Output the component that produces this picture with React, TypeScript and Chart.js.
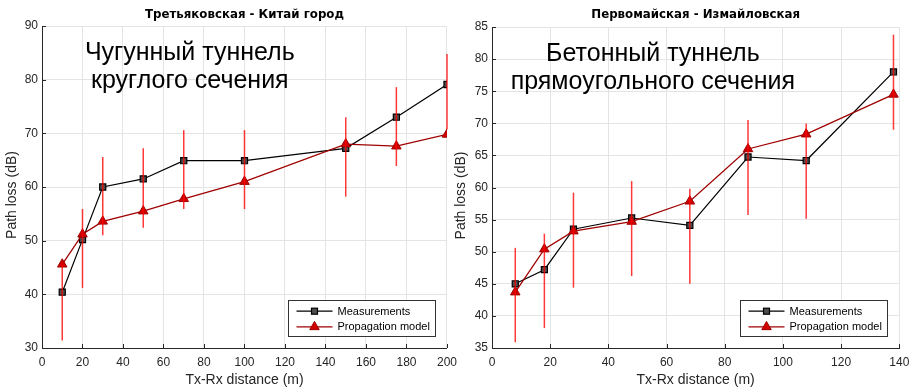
import React, { useEffect, useRef } from "react";
import { Chart, registerables } from "chart.js";

Chart.register(...registerables);

const FONT = "'Liberation Sans', Arial, Helvetica, sans-serif";
const TITLE_FONT = "'DejaVu Sans', 'Liberation Sans', sans-serif";
const AXIS_COLOR = "#262626";
const GRID_COLOR = "#e4e4e4";

// ---------- Left chart: Третьяковская - Китай город ----------
const leftTitle = "Третьяковская - Китай город";
const leftNote = ["Чугунный туннель", "круглого сечения"];
const leftDistance = [10, 20, 30, 50, 70, 100, 150, 175, 200];
const leftMeasured = [40.4, 50.2, 60.0, 61.5, 64.9, 64.9, 67.2, 73.0, 79.1];
const leftModel = [45.6, 51.2, 53.6, 55.5, 57.8, 61.0, 68.0, 67.6, 69.8];
const leftErrLow = [31.4, 41.2, 51.0, 52.4, 55.9, 55.9, 58.2, 63.9, 70.7];
const leftErrHigh = [45.5, 55.9, 65.6, 67.2, 70.6, 70.6, 73.0, 78.6, 84.8];
const leftXTicks = [0, 200, 20]; // min, max, step
const leftYTicks = [30, 90, 10];

// ---------- Right chart: Первомайская - Измайловская ----------
const rightTitle = "Первомайская - Измайловская";
const rightNote = ["Бетонный туннель", "прямоугольного сечения"];
const rightDistance = [8, 18, 28, 48, 68, 88, 108, 138];
const rightMeasured = [45.0, 47.2, 53.5, 55.25, 54.1, 64.75, 64.2, 78.0];
const rightModel = [43.7, 50.4, 53.2, 54.7, 57.85, 66.0, 68.3, 74.5];
const rightErrLow = [35.9, 38.1, 44.4, 46.2, 45.0, 55.7, 55.15, 69.0];
const rightErrHigh = [50.6, 52.8, 59.2, 61.0, 59.8, 70.5, 69.95, 83.8];
const rightXTicks = [0, 140, 20];
const rightYTicks = [35, 85, 5];

const seriesLabels = ["Measurements", "Propagation model"];
const xAxisTitle = "Tx-Rx distance (m)";
const yAxisTitle = "Path loss (dB)";

type Panel = {
  title: string;
  note: string[];
  noteFrac: number;
  x: number[];
  meas: number[];
  model: number[];
  low: number[];
  high: number[];
  xt: number[];
  yt: number[];
  padRight: number;
  padTop: number;
  yTitleX: number;
};

function drawSquare(ctx: CanvasRenderingContext2D, x: number, y: number) {
  ctx.fillStyle = "#4d4d4d";
  ctx.strokeStyle = "#000";
  ctx.lineWidth = 1.2;
  ctx.fillRect(x - 3, y - 3, 6, 6);
  ctx.strokeRect(x - 3, y - 3, 6, 6);
}

function drawTriangle(ctx: CanvasRenderingContext2D, x: number, y: number) {
  const r = 5.5;
  ctx.beginPath();
  ctx.moveTo(x, y - r);
  ctx.lineTo(x + r * 0.866, y + r * 0.5);
  ctx.lineTo(x - r * 0.866, y + r * 0.5);
  ctx.closePath();
  ctx.fillStyle = "#d00000";
  ctx.strokeStyle = "#a00000";
  ctx.lineWidth = 1;
  ctx.fill();
  ctx.stroke();
}

function overlayPlugin(p: Panel) {
  return {
    id: "overlay",
    afterDatasetsDraw(chart: any) {
      const { ctx, scales } = chart;
      const xs = scales.x;
      const ys = scales.y;
      ctx.save();
      ctx.strokeStyle = "rgba(255,0,0,0.78)";
      ctx.lineWidth = 1.5;
      p.x.forEach((d, i) => {
        const px = xs.getPixelForValue(d);
        ctx.beginPath();
        ctx.moveTo(px, ys.getPixelForValue(p.low[i]));
        ctx.lineTo(px, ys.getPixelForValue(p.high[i]));
        ctx.stroke();
      });
      ctx.restore();
    },
    afterDraw(chart: any) {
      const { ctx, chartArea: a, scales } = chart;
      const xs = scales.x;
      const ys = scales.y;
      ctx.save();
      // inward tick marks
      ctx.strokeStyle = AXIS_COLOR;
      ctx.lineWidth = 1;
      xs.ticks.forEach((t: any) => {
        const px = Math.round(xs.getPixelForValue(t.value)) + 0.5;
        ctx.beginPath();
        ctx.moveTo(px, a.bottom);
        ctx.lineTo(px, a.bottom - 4);
        ctx.stroke();
      });
      ys.ticks.forEach((t: any) => {
        const py = Math.round(ys.getPixelForValue(t.value)) + 0.5;
        ctx.beginPath();
        ctx.moveTo(a.left, py);
        ctx.lineTo(a.left + 4, py);
        ctx.stroke();
      });
      // chart title, centred over the plot area
      ctx.fillStyle = "#000";
      ctx.font = `bold 11.8px ${TITLE_FONT}`;
      ctx.textAlign = "center";
      ctx.textBaseline = "middle";
      ctx.fillText(p.title, (a.left + a.right) / 2, 15);
      // y axis title
      ctx.save();
      ctx.translate(p.yTitleX, (a.top + a.bottom) / 2 + 8);
      ctx.rotate(-Math.PI / 2);
      ctx.fillStyle = AXIS_COLOR;
      ctx.font = `14px ${FONT}`;
      ctx.textAlign = "center";
      ctx.textBaseline = "middle";
      ctx.fillText(yAxisTitle, 0, 0);
      ctx.restore();
      // annotation text
      ctx.fillStyle = "#000";
      ctx.font = `25px ${FONT}`;
      ctx.textAlign = "center";
      ctx.textBaseline = "alphabetic";
      const cx = a.left + p.noteFrac * (a.right - a.left);
      ctx.fillText(p.note[0], cx, a.top + 34);
      ctx.fillText(p.note[1], cx, a.top + 62);
      // legend
      const w = 147;
      const h = 36;
      const bx = Math.round(a.right - 12 - w) + 0.5;
      const by = Math.round(a.bottom - 12 - h) + 0.5;
      ctx.fillStyle = "#fff";
      ctx.fillRect(bx, by, w, h);
      ctx.strokeStyle = "#333";
      ctx.lineWidth = 1;
      ctx.strokeRect(bx, by, w, h);
      const rows = [by + 10.7, by + 26.4];
      ctx.font = `11px ${FONT}`;
      ctx.textAlign = "left";
      ctx.textBaseline = "middle";
      rows.forEach((ry, i) => {
        ctx.beginPath();
        ctx.strokeStyle = i === 0 ? "#000" : "#a00000";
        ctx.lineWidth = i === 0 ? 1.2 : 1.3;
        ctx.moveTo(bx + 8, ry);
        ctx.lineTo(bx + 44, ry);
        ctx.stroke();
        if (i === 0) drawSquare(ctx, bx + 26, ry);
        else drawTriangle(ctx, bx + 26, ry);
        ctx.fillStyle = "#000";
        ctx.fillText(seriesLabels[i], bx + 49, ry + 0.5);
      });
      ctx.restore();
    },
  };
}

function makeConfig(p: Panel): any {
  return {
    type: "line",
    data: {
      datasets: [
        {
          label: seriesLabels[0],
          data: p.x.map((x, i) => ({ x, y: p.meas[i] })),
          borderColor: "#000",
          borderWidth: 1.2,
          pointStyle: "rect",
          pointRadius: 4.3,
          pointBackgroundColor: "#4d4d4d",
          pointBorderColor: "#000",
          pointBorderWidth: 1.2,
          tension: 0,
          order: 1,
        },
        {
          label: seriesLabels[1],
          data: p.x.map((x, i) => ({ x, y: p.model[i] })),
          borderColor: "#a00000",
          borderWidth: 1.3,
          pointStyle: "triangle",
          pointRadius: 5.5,
          pointBackgroundColor: "#d00000",
          pointBorderColor: "#a00000",
          pointBorderWidth: 1,
          tension: 0,
          order: 0,
        },
      ],
    },
    options: {
      animation: false,
      responsive: false,
      maintainAspectRatio: false,
      layout: { padding: { left: 0, right: p.padRight, top: p.padTop, bottom: 0 } },
      plugins: {
        legend: { display: false },
        tooltip: { enabled: false },
        title: { display: false },
      },
      scales: {
        x: {
          type: "linear",
          min: p.xt[0],
          max: p.xt[1],
          ticks: {
            stepSize: p.xt[2],
            color: AXIS_COLOR,
            font: { family: FONT, size: 12 },
            padding: 7,
            maxRotation: 0,
            autoSkip: false,
          },
          grid: { color: GRID_COLOR, drawTicks: false, lineWidth: 1 },
          border: { color: AXIS_COLOR, width: 1 },
          title: {
            display: true,
            text: xAxisTitle,
            color: AXIS_COLOR,
            font: { family: FONT, size: 14 },
            padding: { top: 0, bottom: 0.5 },
          },
          afterFit: (s: any) => {
            s.height = 41;
          },
        },
        y: {
          type: "linear",
          min: p.yt[0],
          max: p.yt[1],
          ticks: {
            stepSize: p.yt[2],
            color: AXIS_COLOR,
            font: { family: FONT, size: 12 },
            padding: 4,
          },
          grid: { color: GRID_COLOR, drawTicks: false, lineWidth: 1 },
          border: { color: AXIS_COLOR, width: 1 },
          title: { display: false },
          afterFit: (s: any) => {
            s.width = 42;
          },
        },
      },
    },
    plugins: [overlayPlugin(p)],
  };
}

function ChartPanel({ panel, left, width }: { panel: Panel; left: number; width: number }) {
  const ref = useRef<HTMLCanvasElement | null>(null);
  useEffect(() => {
    if (!ref.current) return;
    const chart = new Chart(ref.current, makeConfig(panel));
    return () => chart.destroy();
  }, [panel]);
  return (
    <canvas
      ref={ref}
      width={width}
      height={389}
      style={{ position: "absolute", left, top: 0, width, height: 389 }}
    />
  );
}

const leftPanel: Panel = {
  title: leftTitle,
  note: leftNote,
  noteFrac: 0.365,
  x: leftDistance,
  meas: leftMeasured,
  model: leftModel,
  low: leftErrLow,
  high: leftErrHigh,
  xt: leftXTicks,
  yt: leftYTicks,
  padRight: 17,
  padTop: 26,
  yTitleX: 12,
};

const rightPanel: Panel = {
  title: rightTitle,
  note: rightNote,
  noteFrac: 0.395,
  x: rightDistance,
  meas: rightMeasured,
  model: rightModel,
  low: rightErrLow,
  high: rightErrHigh,
  xt: rightXTicks,
  yt: rightYTicks,
  padRight: 17.7,
  padTop: 27,
  yTitleX: 11,
};

export default function App() {
  return (
    <div
      style={{
        position: "fixed",
        left: 0,
        top: 0,
        width: 917,
        height: 389,
        background: "#fff",
        overflow: "hidden",
      }}
    >
      <ChartPanel panel={leftPanel} left={0} width={464} />
      <ChartPanel panel={rightPanel} left={450} width={467} />
    </div>
  );
}
